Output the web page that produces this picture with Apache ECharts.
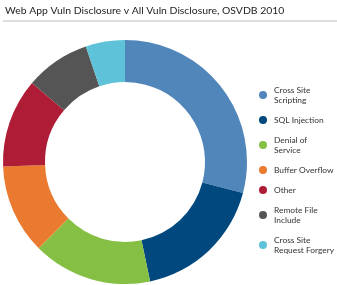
<!DOCTYPE html>
<html>
<head>
<meta charset="utf-8">
<script src="https://cdn.jsdelivr.net/npm/echarts@6/dist/echarts.min.js"></script>
<style>
  html, body { margin: 0; padding: 0; background: #fff; }
  #chart { width: 337px; height: 285px; }
</style>
</head>
<body>
<div id="chart"></div>
<script>
// Share of disclosures per category (percent, read from the ring)
const CATEGORIES = [
    "Cross Site Scripting", "SQL Injection", "Denial of Service",
    "Buffer Overflow", "Other", "Remote File Include", "Cross Site Request Forgery"
];
const LEGEND_LABELS = [
    "Cross Site\nScripting", "SQL Injection", "Denial of\nService",
    "Buffer Overflow", "Other", "Remote File\nInclude", "Cross Site\nRequest Forgery"
];
const VALUES = [29.1, 17.6, 15.8, 11.9, 11.8, 8.6, 5.2];
const COLORS = ["#5186bb", "#01487e", "#85bf43", "#e97a30", "#ae1c35", "#555555", "#5ec2d8"];

const FONT = "Lato, 'Noto Sans', sans-serif";

const chart = echarts.init(document.getElementById('chart'), null, { renderer: 'canvas' });

const option = {
    animation: false,
    color: COLORS,
    title: {
        text: 'Web App Vuln Disclosure v All Vuln Disclosure, OSVDB 2010',
        left: 0,
        top: 1,
        textStyle: { fontFamily: FONT, fontSize: 10.4, fontWeight: 'normal', color: '#222' }
    },
    // thin grey rule under the title
    graphic: [{
        type: 'rect',
        shape: { x: 3, y: 20, width: 334, height: 2 },
        style: { fill: '#dedede' }
    }],
    legend: {
        orient: 'vertical',
        left: 254,
        top: 80,
        icon: 'circle',
        itemWidth: 12,
        itemHeight: 8,
        itemGap: 10,
        selectedMode: false,
        data: CATEGORIES,
        formatter: name => LEGEND_LABELS[CATEGORIES.indexOf(name)],
        textStyle: { fontFamily: FONT, fontSize: 8.4, lineHeight: 10, color: '#333' }
    },
    series: [{
        type: 'pie',
        center: [125, 162],
        radius: [80, 122],
        startAngle: 90,
        clockwise: true,
        label: { show: false },
        labelLine: { show: false },
        emphasis: { disabled: true },
        itemStyle: { borderWidth: 0 },
        data: CATEGORIES.map((name, i) => ({ name: name, value: VALUES[i] }))
    }]
};

chart.setOption(option);
</script>
</body>
</html>
